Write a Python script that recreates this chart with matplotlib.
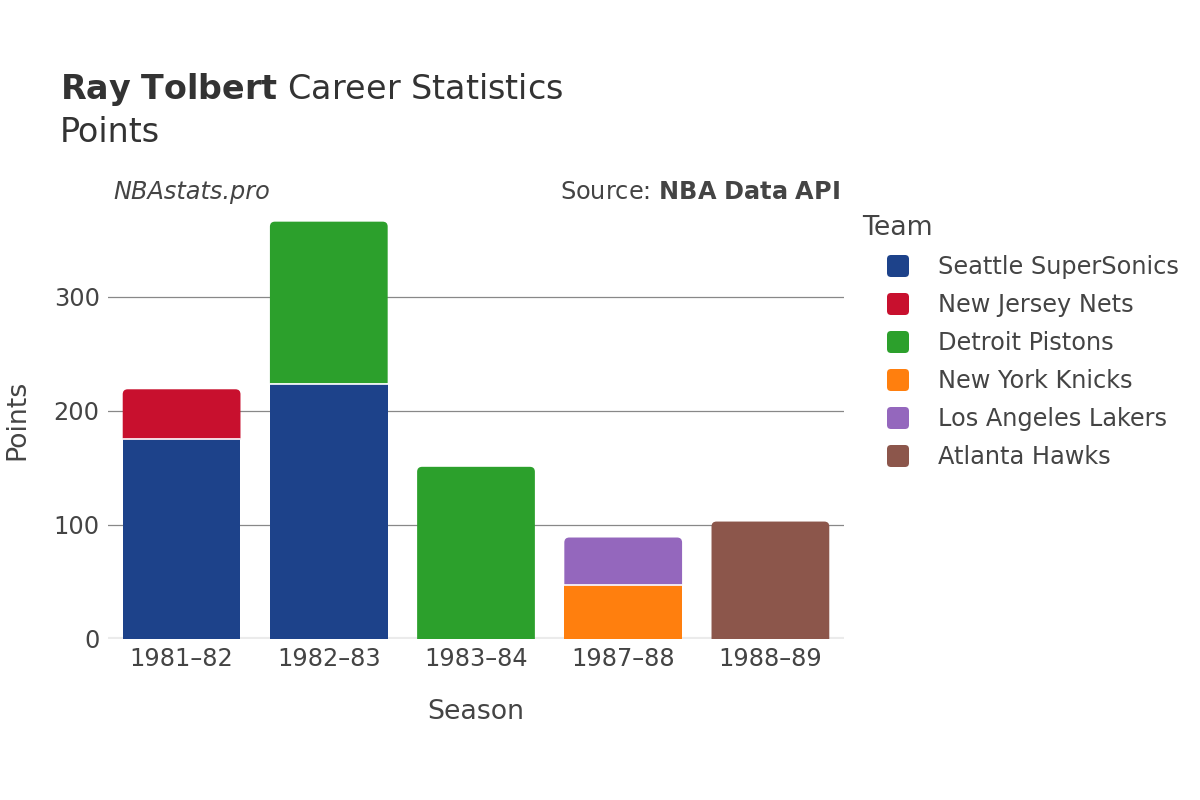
import numpy as np
import matplotlib.pyplot as plt
from matplotlib.patches import FancyBboxPatch, PathPatch
from matplotlib.path import Path
from matplotlib.transforms import IdentityTransform

seasons = ["1981–82", "1982–83", "1983–84", "1987–88", "1988–89"]
teams = ["Seattle SuperSonics", "New Jersey Nets", "Detroit Pistons",
         "New York Knicks", "Los Angeles Lakers", "Atlanta Hawks"]
colors = ["#1d428a", "#c8102e", "#2ca02c", "#ff7f0e", "#9467bd", "#8c564b"]

# points per season for each team (0 = did not play there)
sonics = [175, 224, 0, 0, 0]
nets = [44, 0, 0, 0, 0]
pistons = [0, 142, 151, 0, 0]
knicks = [0, 0, 0, 47, 0]
lakers = [0, 0, 0, 42, 0]
hawks = [0, 0, 0, 0, 103]
values = [sonics, nets, pistons, knicks, lakers, hawks]

plt.rcParams['font.family'] = ['DejaVu Sans']
txt = "#444444"

fig = plt.figure(figsize=(12, 8), dpi=100)
ax = fig.add_axes([108 / 1200, 161 / 800, 736 / 1200, 439 / 800])
ax.set_xlim(-0.5, 4.5)
ax.set_ylim(0, 385)

width = 0.8
x = np.arange(len(seasons))
data = np.array(values, dtype=float)
tops = data.sum(axis=0)

# corner radius: ~5 px in both directions
rx = 5 / (736 / 5)
ry = 5 / (439 / 385)


def rounded_top(xc, bottom, h, color):
    x0, x1 = xc - width / 2, xc + width / 2
    t = bottom + h
    verts = [(x0, bottom), (x0, t - ry), (x0, t), (x0 + rx, t),
             (x1 - rx, t), (x1, t), (x1, t - ry), (x1, bottom), (x0, bottom)]
    codes = [Path.MOVETO, Path.LINETO, Path.CURVE3, Path.CURVE3,
             Path.LINETO, Path.CURVE3, Path.CURVE3, Path.LINETO,
             Path.CLOSEPOLY]
    ax.add_patch(PathPatch(Path(verts, codes), facecolor=color,
                           edgecolor="none", zorder=3))


bottoms = np.zeros(len(seasons))
for i, team in enumerate(teams):
    for j in range(len(seasons)):
        h = data[i, j]
        if h <= 0:
            continue
        if abs(bottoms[j] + h - tops[j]) < 1e-9:
            rounded_top(x[j], bottoms[j], h, colors[i])
        else:
            ax.bar(x[j], h, width, bottom=bottoms[j], color=colors[i],
                   edgecolor="none", zorder=3)
        if bottoms[j] > 0:
            ax.plot([x[j] - width / 2, x[j] + width / 2], [bottoms[j]] * 2,
                    color="white", lw=1.2, zorder=4)
        bottoms[j] += h

ax.set_yticks([0, 100, 200, 300])
ax.yaxis.grid(True, color="#888888", lw=0.9, zorder=0)
ax.axhline(0, color="#ebebeb", lw=3, zorder=2)
for s in ax.spines.values():
    s.set_visible(False)
ax.tick_params(length=0, labelsize=17.3, labelcolor=txt, pad=6)
ax.set_xticks(x)
ax.set_xticklabels(seasons)
ax.set_xlabel("Season", fontsize=19.3, color=txt)
ax.xaxis.set_label_coords(0.5, -(712 - 639) / 439)
ax.set_ylabel("Points", fontsize=19.3, color=txt, va="center")
ax.yaxis.set_label_coords(-(108 - 17) / 736, (639 - 420) / 439)
ax.xaxis.label.set_va("center")

# titles
fig.text(60 / 1200, 1 - 89 / 800, "$\\bf{Ray\\ Tolbert}$ Career Statistics",
         fontsize=24, color="#333333", va="center")
fig.text(60 / 1200, 1 - 133 / 800, "Points", fontsize=24, color="#333333",
         va="center")
fig.text(113 / 1200, 1 - 192 / 800, "NBAstats.pro", fontsize=17.3,
         style="italic", color=txt, va="center")
fig.text(840 / 1200, 1 - 192 / 800, "Source: $\\bf{NBA\\ Data\\ API}$",
         fontsize=17.3, color=txt, va="center", ha="right")

# legend
fig.text(862 / 1200, 1 - 228 / 800, "Team", fontsize=19.3, color=txt,
         va="center")
for i, team in enumerate(teams):
    py = 266 + 38 * i
    box = FancyBboxPatch((887, 800 - py - 11), 22, 22,
                         boxstyle="round,pad=0,rounding_size=4",
                         facecolor=colors[i], edgecolor="none",
                         transform=IdentityTransform())
    fig.add_artist(box)
    fig.text(938 / 1200, 1 - (py + 1) / 800, team, fontsize=17.3, color=txt,
             va="center")

fig.savefig("out.png", dpi=100)
